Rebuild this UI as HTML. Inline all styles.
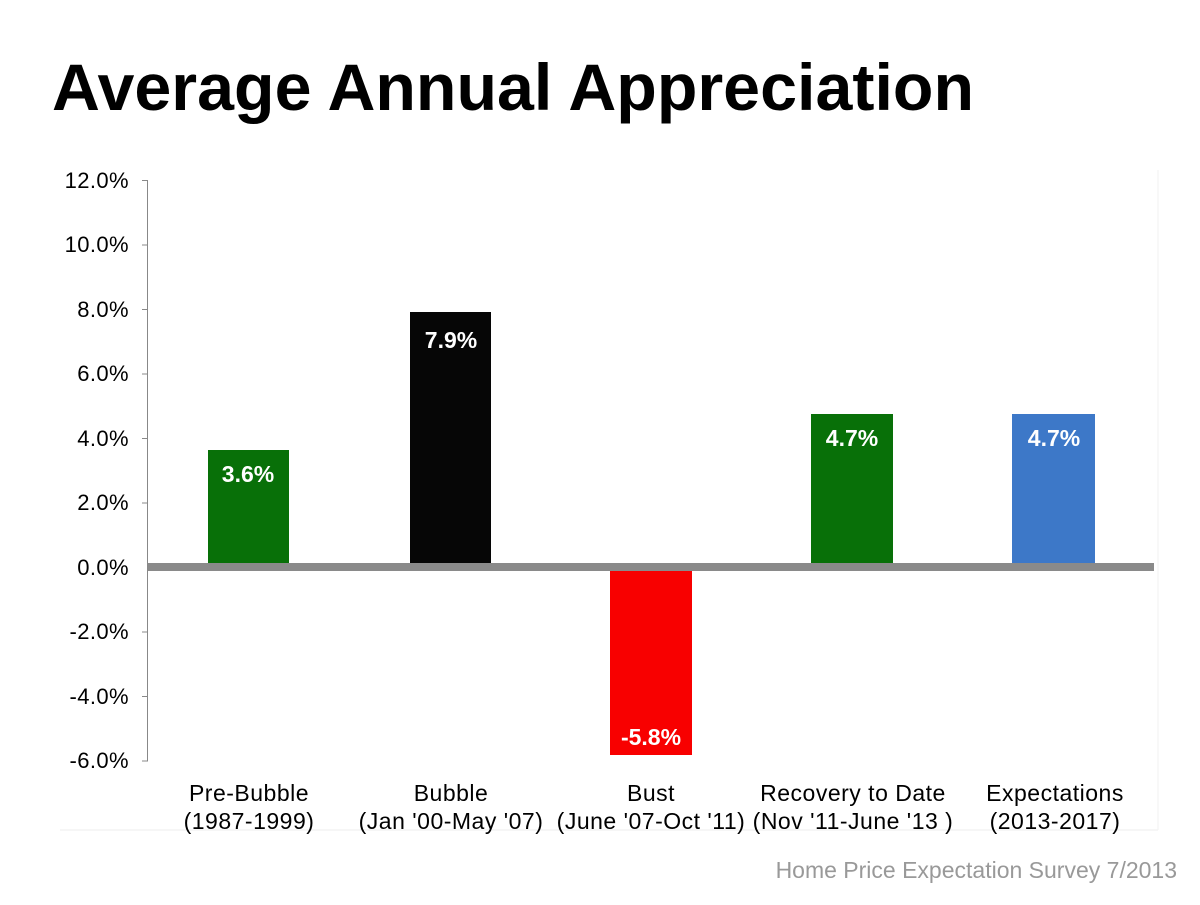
<!DOCTYPE html>
<html><head><meta charset="utf-8"><style>
body{margin:0;width:1200px;height:900px;background:#fff;overflow:hidden;font-family:"Liberation Sans",Arial,sans-serif}
</style></head><body>
<svg width="1200" height="900" xmlns="http://www.w3.org/2000/svg" font-family="Liberation Sans, Arial, sans-serif">
<text x="52" y="110" font-size="66" font-weight="bold" fill="#000" textLength="922" lengthAdjust="spacingAndGlyphs">Average Annual Appreciation</text>
<line x1="60" y1="830" x2="1158" y2="830" stroke="#eee" stroke-width="1"/>
<line x1="1158" y1="170" x2="1158" y2="830" stroke="#f2f2f2" stroke-width="1"/>
<line x1="147.5" y1="180" x2="147.5" y2="761" stroke="#888" stroke-width="1"/>
<g stroke="#888" stroke-width="1">
<line x1="142" y1="180.5" x2="148" y2="180.5"/><line x1="142" y1="245" x2="148" y2="245"/>
<line x1="142" y1="309.5" x2="148" y2="309.5"/><line x1="142" y1="374" x2="148" y2="374"/>
<line x1="142" y1="438.5" x2="148" y2="438.5"/><line x1="142" y1="503" x2="148" y2="503"/>
<line x1="142" y1="632" x2="148" y2="632"/><line x1="142" y1="696.5" x2="148" y2="696.5"/>
<line x1="142" y1="761" x2="148" y2="761"/>
</g>
<g font-size="22" fill="#000" text-anchor="end" letter-spacing="0.4">
<text x="129" y="188">12.0%</text><text x="129" y="252">10.0%</text>
<text x="129" y="317">8.0%</text><text x="129" y="381">6.0%</text>
<text x="129" y="446">4.0%</text><text x="129" y="510">2.0%</text>
<text x="129" y="575">0.0%</text><text x="129" y="639">-2.0%</text>
<text x="129" y="704">-4.0%</text><text x="129" y="768">-6.0%</text>
</g>
<rect x="208" y="450" width="81" height="117" fill="#087008"/>
<rect x="410" y="312" width="81" height="255" fill="#060606"/>
<rect x="610" y="567" width="82" height="188" fill="#f80000"/>
<rect x="811" y="414" width="82" height="153" fill="#087008"/>
<rect x="1012" y="414" width="83" height="153" fill="#3d78c8"/>
<rect x="148" y="563" width="1006" height="8" fill="#8a8a8a"/>
<g font-size="23" font-weight="bold" fill="#fff" text-anchor="middle">
<text x="248" y="482">3.6%</text><text x="451" y="348">7.9%</text>
<text x="651" y="745">-5.8%</text><text x="852" y="446">4.7%</text>
<text x="1054" y="446">4.7%</text>
</g>
<g font-size="23" fill="#000" text-anchor="middle" letter-spacing="0.5">
<text x="249" y="801">Pre-Bubble</text><text x="249" y="829">(1987-1999)</text>
<text x="451" y="801">Bubble</text><text x="451" y="829">(Jan '00-May '07)</text>
<text x="651" y="801">Bust</text><text x="651" y="829">(June '07-Oct '11)</text>
<text x="853" y="801">Recovery to Date</text><text x="853" y="829">(Nov '11-June '13 )</text>
<text x="1055" y="801">Expectations</text><text x="1055" y="829">(2013-2017)</text>
</g>
<text x="1177" y="878" font-size="23" fill="#999" text-anchor="end">Home Price Expectation Survey 7/2013</text>
</svg>
</body></html>
